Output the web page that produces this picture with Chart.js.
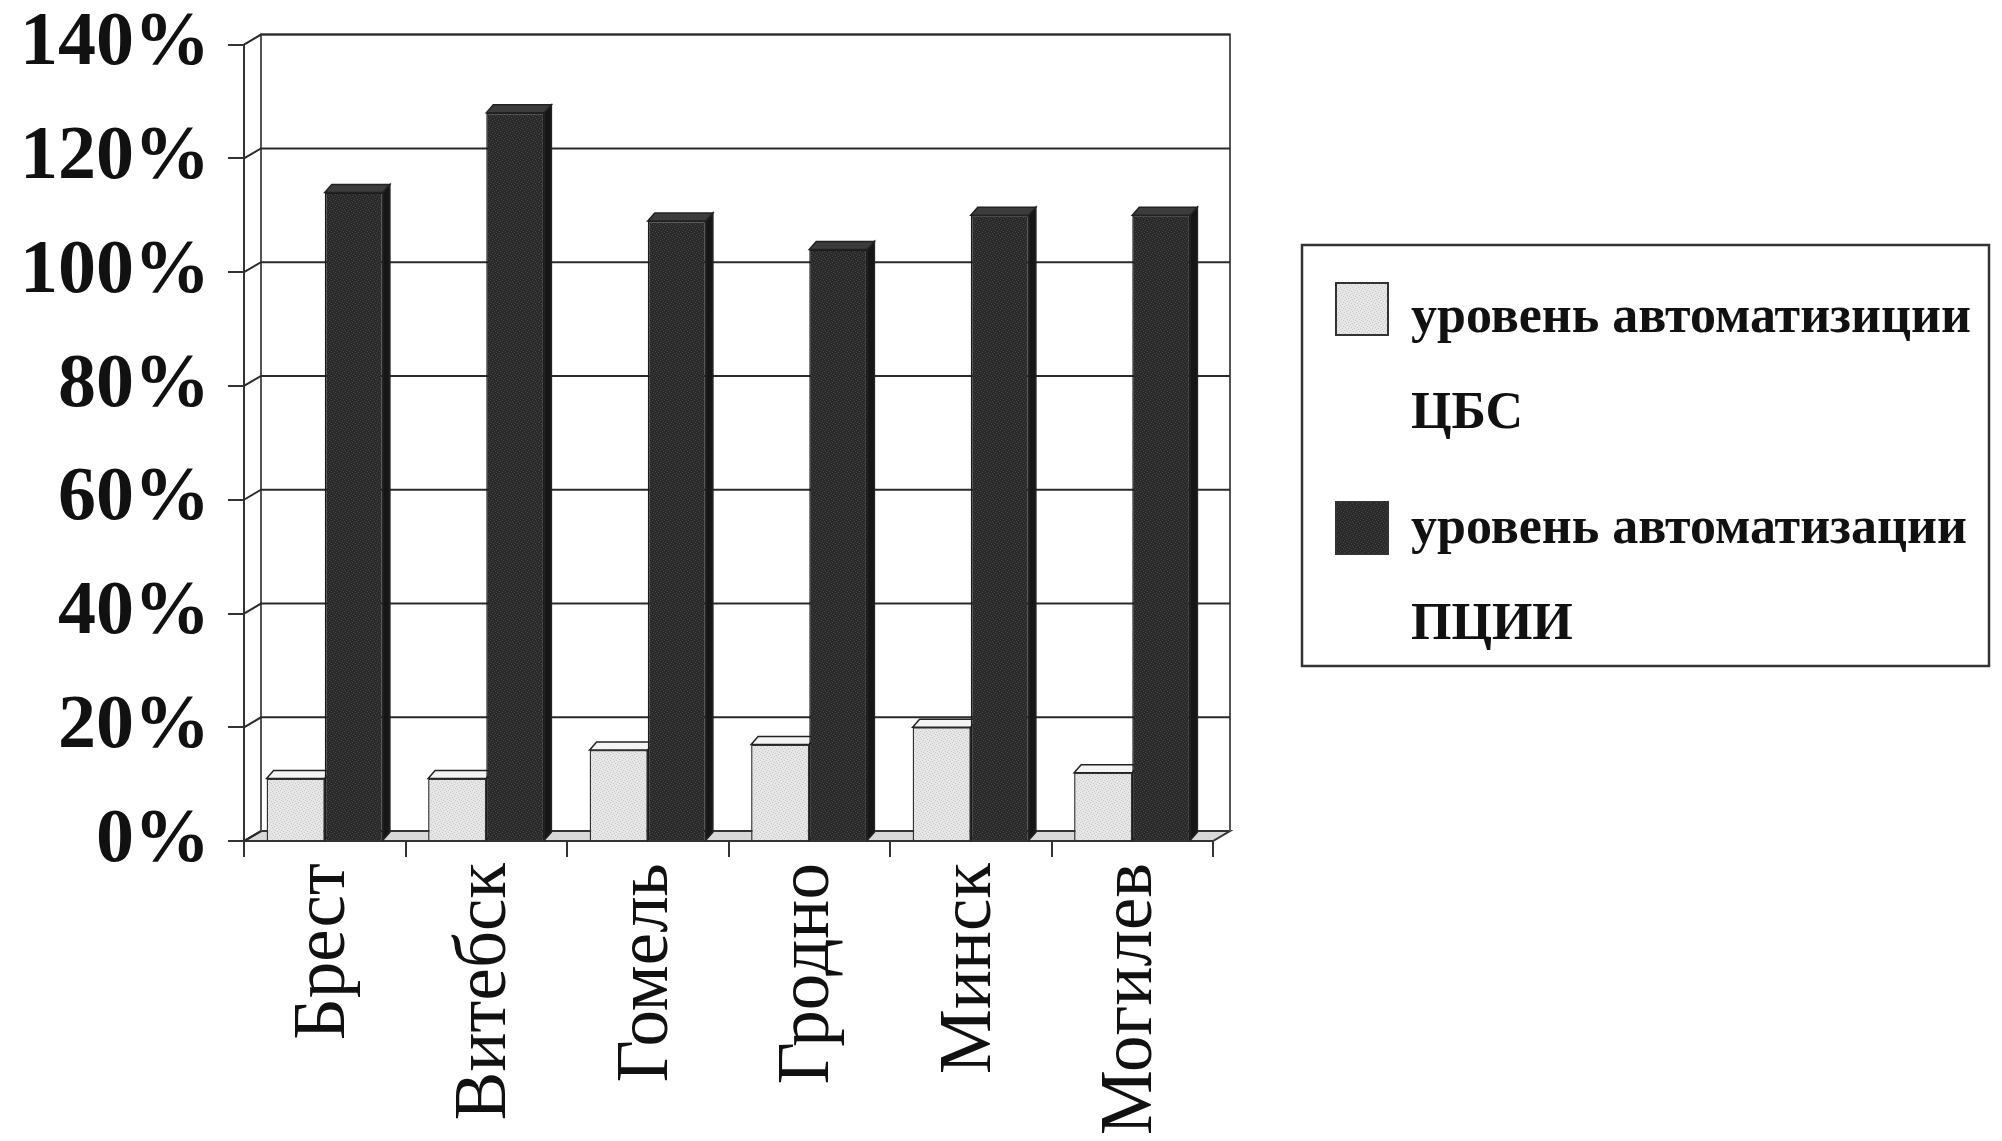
<!DOCTYPE html>
<html>
<head>
<meta charset="utf-8">
<script src="https://cdn.jsdelivr.net/npm/chart.js@4/dist/chart.umd.min.js"></script>
<style>
  html, body { margin: 0; padding: 0; background: #ffffff; }
  #wrap { width: 2002px; height: 1141px; }
</style>
</head>
<body>
<div id="wrap"><canvas id="levels"></canvas></div>
<script>
// regions
let CATEGORIES = ["Брест", "Витебск", "Гомель", "Гродно", "Минск", "Могилев"];
// % levels
let CBS = [11, 11, 16, 17, 20, 12];
let PCII = [114, 128, 109, 104, 110, 110];
let SERIES_NAMES = ["уровень автоматизиции ЦБС", "уровень автоматизации ПЦИИ"];
let Y_MAX = 140;
let Y_STEP = 20;

let FONT = "'Liberation Serif', 'Times New Roman', serif";
let WALL_DX = 17, WALL_DY = 10;   // depth of the back wall
let BAR_DX = 7, BAR_DY = 8;       // depth of each column

function makePattern(base, speck) {
  let c = document.createElement("canvas");
  c.width = 6; c.height = 6;
  let g = c.getContext("2d");
  g.fillStyle = base;
  g.fillRect(0, 0, 6, 6);
  g.fillStyle = speck;
  [[0, 0], [3, 1], [1, 3], [4, 4], [5, 2], [2, 5]].forEach(p => g.fillRect(p[0], p[1], 1, 1));
  return g.createPattern(c, "repeat");
}

let LIGHT = makePattern("#e6e6e6", "#c8c8c8");
let DARK = makePattern("#2a2a2a", "#454545");

let FACES = [
  { top: "#f4f4f4", side: "#cdcdcd" },
  { top: "#3c3c3c", side: "#161616" }
];

function drawFaces(chart, index) {
  let ctx = chart.ctx;
  let f = FACES[index];
  ctx.save();
  ctx.strokeStyle = "#222";
  ctx.lineWidth = 1.5;
  chart.getDatasetMeta(index).data.forEach(bar => {
    let l = bar.x - bar.width / 2, r = bar.x + bar.width / 2;
    ctx.fillStyle = f.top;
    ctx.beginPath();
    ctx.moveTo(l, bar.y);
    ctx.lineTo(l + BAR_DX, bar.y - BAR_DY);
    ctx.lineTo(r + BAR_DX, bar.y - BAR_DY);
    ctx.lineTo(r, bar.y);
    ctx.closePath();
    ctx.fill();
    ctx.stroke();
    ctx.fillStyle = f.side;
    ctx.beginPath();
    ctx.moveTo(r, bar.y);
    ctx.lineTo(r + BAR_DX, bar.y - BAR_DY);
    ctx.lineTo(r + BAR_DX, bar.base - BAR_DY);
    ctx.lineTo(r, bar.base);
    ctx.closePath();
    ctx.fill();
    ctx.stroke();
  });
  ctx.restore();
}

// back wall, floor and grid lines in fake 3D
let wallPlugin = {
  id: "wall",
  beforeDatasetsDraw(chart) {
    let ctx = chart.ctx, a = chart.chartArea, y = chart.scales.y;
    ctx.save();
    ctx.strokeStyle = "#333";
    ctx.lineWidth = 2;
    // floor
    ctx.fillStyle = "#d8d8d8";
    ctx.beginPath();
    ctx.moveTo(a.left, a.bottom);
    ctx.lineTo(a.right, a.bottom);
    ctx.lineTo(a.right + WALL_DX, a.bottom - WALL_DY);
    ctx.lineTo(a.left + WALL_DX, a.bottom - WALL_DY);
    ctx.closePath();
    ctx.fill();
    ctx.stroke();
    // wall frame
    ctx.strokeStyle = "#555";
    ctx.beginPath();
    ctx.moveTo(a.left + WALL_DX, a.bottom - WALL_DY);
    ctx.lineTo(a.left + WALL_DX, a.top - WALL_DY);
    ctx.lineTo(a.right + WALL_DX, a.top - WALL_DY);
    ctx.lineTo(a.right + WALL_DX, a.bottom - WALL_DY);
    ctx.stroke();
    // grid lines on the wall and the side wall
    ctx.strokeStyle = "#2a2a2a";
    y.ticks.forEach(t => {
      let py = y.getPixelForValue(t.value);
      ctx.beginPath();
      ctx.moveTo(a.left, py);
      ctx.lineTo(a.left + WALL_DX, py - WALL_DY);
      if (t.value > 0) ctx.lineTo(a.right + WALL_DX, py - WALL_DY);
      ctx.stroke();
    });
    ctx.restore();
    // light columns' top and side go first so the dark fronts hide what they should
    drawFaces(chart, 0);
  },
  afterDatasetsDraw(chart) {
    drawFaces(chart, 1);
  }
};

// legend box on the right, names broken over two lines
let legendPlugin = {
  id: "boxLegend",
  afterDraw(chart) {
    let ctx = chart.ctx;
    let x0 = chart.chartArea.right + 89, y0 = 245, w = 687, h = 421;
    ctx.save();
    ctx.strokeStyle = "#333";
    ctx.lineWidth = 2.5;
    ctx.strokeRect(x0, y0, w, h);
    ctx.font = "bold 52px " + FONT;
    ctx.textBaseline = "middle";
    let rows = [{ sw: 38, t: 74 }, { sw: 257, t: 285 }];
    chart.data.datasets.forEach((ds, i) => {
      let name = ds.label;
      let cut = name.lastIndexOf(" ");
      ctx.fillStyle = ds.backgroundColor;
      ctx.fillRect(x0 + 34, y0 + rows[i].sw, 52, 52);
      ctx.strokeStyle = "#333";
      ctx.lineWidth = 2;
      ctx.strokeRect(x0 + 34, y0 + rows[i].sw, 52, 52);
      ctx.fillStyle = "#111";
      ctx.fillText(name.slice(0, cut), x0 + 109, y0 + rows[i].t);
      ctx.fillText(name.slice(cut + 1), x0 + 109, y0 + rows[i].t + 96);
    });
    ctx.restore();
  }
};

let ctx = document.getElementById("levels").getContext("2d");
let levelsChart = new Chart(ctx, {
  type: "bar",
  data: {
    labels: CATEGORIES,
    datasets: [{
      label: SERIES_NAMES[0],
      data: CBS,
      backgroundColor: LIGHT,
      borderColor: "#333",
      borderWidth: 1.5
    }, {
      label: SERIES_NAMES[1],
      data: PCII,
      backgroundColor: DARK,
      borderColor: "#1a1a1a",
      borderWidth: 1.5
    }]
  },
  options: {
    responsive: true,
    maintainAspectRatio: false,
    animation: false,
    layout: { padding: { left: 2, right: 789, top: 0, bottom: 0 } },
    datasets: { bar: { categoryPercentage: 0.72, barPercentage: 1.0 } },
    plugins: { legend: { display: false }, tooltip: { enabled: false } },
    scales: {
      x: {
        grid: { offset: true, drawOnChartArea: false, drawTicks: true, tickLength: 16, color: "#333", lineWidth: 2 },
        border: { color: "#333", width: 2 },
        ticks: {
          minRotation: 90, maxRotation: 90, padding: 6,
          color: "#111",
          font: { family: FONT, size: 73 }
        }
      },
      y: {
        min: 0, max: Y_MAX,
        grid: { drawOnChartArea: false, drawTicks: true, tickLength: 16, color: "#333", lineWidth: 2 },
        border: { color: "#333", width: 2 },
        ticks: {
          stepSize: Y_STEP, padding: 18,
          color: "#111",
          font: { family: FONT, size: 76, weight: "bold", lineHeight: 0.7 },
          callback: v => v + "%"
        }
      }
    }
  },
  plugins: [wallPlugin, legendPlugin]
});
</script>
</body>
</html>
